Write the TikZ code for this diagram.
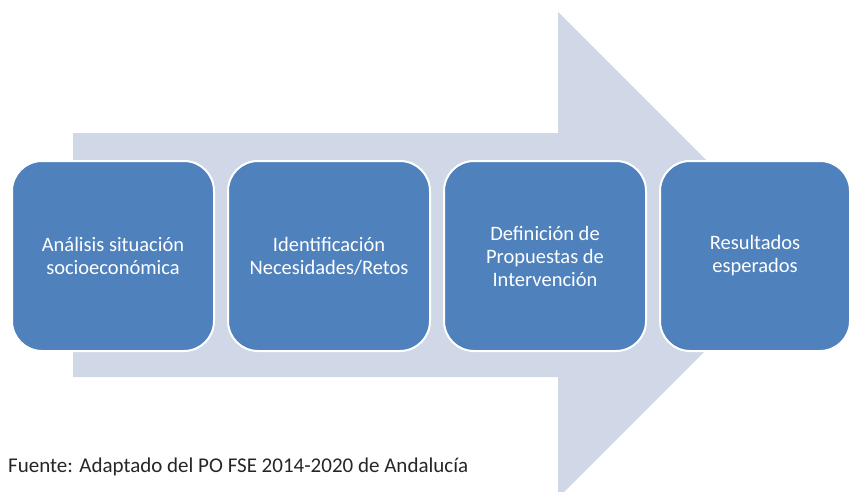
\documentclass[tikz,border=0pt]{standalone}
\usepackage{fontspec}
\setmainfont{Carlito}
\usetikzlibrary{positioning}

\definecolor{arrowgray}{HTML}{D0D8E8}
\definecolor{boxblue}{HTML}{4F81BD}
\tikzset{
  stage/.style={draw=white,line width=2pt,fill=boxblue,rounded corners=30pt,
    minimum height=190pt,text=white,align=center,
    font=\fontsize{20.5}{23}\selectfont,inner sep=0pt},
}

\begin{document}
\begin{tikzpicture}[x=1pt,y=-1pt]
 \useasboundingbox (0,0) rectangle (853,492);
 \clip (0,0) rectangle (853,492);
 % big background arrow
 \fill[arrowgray] (73,133)--(558,133)--(558,12)--(801,255)--(558,498)--(558,377)--(73,377)--cycle;
 % stages
 \node[stage,minimum width=202pt] (analisis) at (113,256) {An\'alisis situaci\'on\\socioecon\'omica};
 \node[stage,minimum width=202pt] (necesidades) at (329,256) {Identificaci\'on\\Necesidades/Retos};
 \node[stage,minimum width=202pt] (propuestas) at (545,256) {Definici\'on de\\Propuestas de\\Intervenci\'on};
 \node[stage,minimum width=190pt] (resultados) at (755,256) {Resultados\\esperados};
 % source
 \node[anchor=base west,inner sep=0pt,text=black!85,font=\fontsize{21}{24}\selectfont] (fuente) at (8,472) {Fuente: Adaptado del PO FSE 2014-2020 de Andaluc\'ia};
\end{tikzpicture}
\end{document}
